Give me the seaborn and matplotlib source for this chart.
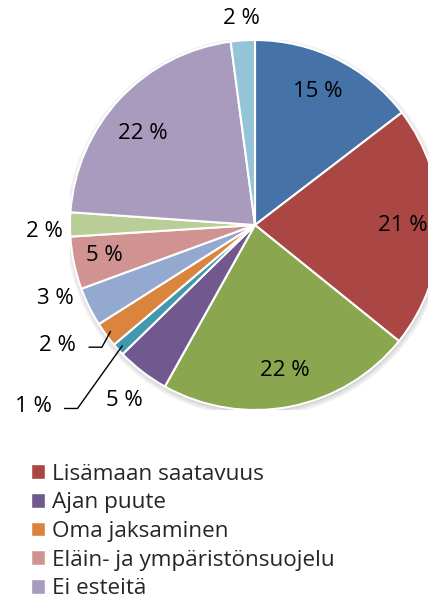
import numpy as np
import matplotlib
matplotlib.use("Agg")
import matplotlib.pyplot as plt
import seaborn as sns
from matplotlib.patches import Patch, Circle

# Slice values (%), clockwise from 12 o'clock
values = [14.6, 21.2, 22.3, 4.6, 1.1, 2.2, 3.4, 4.6, 2.1, 21.8, 2.1]
# Category names (only the ones visible in the legend are known)
categories = ["", "Lisämaan saatavuus", "", "Ajan puute", "", "Oma jaksaminen",
              "", "Eläin- ja ympäristönsuojelu", "", "Ei esteitä", ""]
colors = ["#4573A7", "#AA4744", "#8AA64F", "#71588F", "#4198AF", "#DB843D",
          "#93A9D0", "#D19392", "#B9CD97", "#A99BBD", "#93C4D7"]

# label placement: (radius, angle nudge in degrees)
label_pos = [(0.80, 1), (0.80, 0.5), (0.80, 0.5), (1.18, 0.8), (1.55, -3),
             (1.25, -5), (1.15, -6), (0.83, -0.5), (1.14, 2), (0.78, 4), (1.12, 0)]
leader = [False, False, False, False, True, True, False, False, False, False, False]

sns.set_theme(style="white")
plt.rcParams["font.family"] = ["Open Sans", "DejaVu Sans"]

W, H = 428, 599
fig = plt.figure(figsize=(W / 100, H / 100), dpi=100)
cx, cy, R = 255, 225, 185
ax = fig.add_axes([(cx - R) / W, (H - cy - R) / H, 2 * R / W, 2 * R / H])

# soft shadow under the pie
for k, al in enumerate([0.06, 0.06, 0.08]):
    ax.add_patch(Circle((0.004, -0.012), 1.0 + 0.012 * (2 - k), color="black",
                        alpha=al, lw=0, zorder=0))

wedges, _ = ax.pie(values, colors=colors, startangle=90, counterclock=False,
                   radius=1, wedgeprops=dict(edgecolor="white", linewidth=1.5))
ax.set_xlim(-1, 1)
ax.set_ylim(-1, 1)
ax.set_aspect("auto")
ax.axis("off")

for i, w in enumerate(wedges):
    mid = np.deg2rad((w.theta1 + w.theta2) / 2)
    r, nudge = label_pos[i]
    a = mid + np.deg2rad(nudge)
    x, y = r * np.cos(a), r * np.sin(a)
    ax.text(x, y, f"{round(values[i])} %", ha="center", va="center",
            fontsize=16, color="black", clip_on=False)
    if leader[i]:
        ex, ey = 0.97 * np.cos(mid), 0.97 * np.sin(mid)
        x0 = x + 0.17
        ax.plot([x0, x0 + 0.07, ex], [y - 0.01, y - 0.01, ey], color="black",
                lw=1, clip_on=False)

handles = [Patch(facecolor=colors[i], edgecolor="white")
           for i in range(len(values)) if categories[i]]
names = [c for c in categories if c]
fig.legend(handles, names, loc="upper left", bbox_to_anchor=(0.072, 0.226),
           frameon=False, fontsize=16.2, handlelength=0.62, handleheight=0.62,
           handletextpad=0.3, labelspacing=0.34, borderpad=0, borderaxespad=0)

fig.savefig("out.png", dpi=100)
